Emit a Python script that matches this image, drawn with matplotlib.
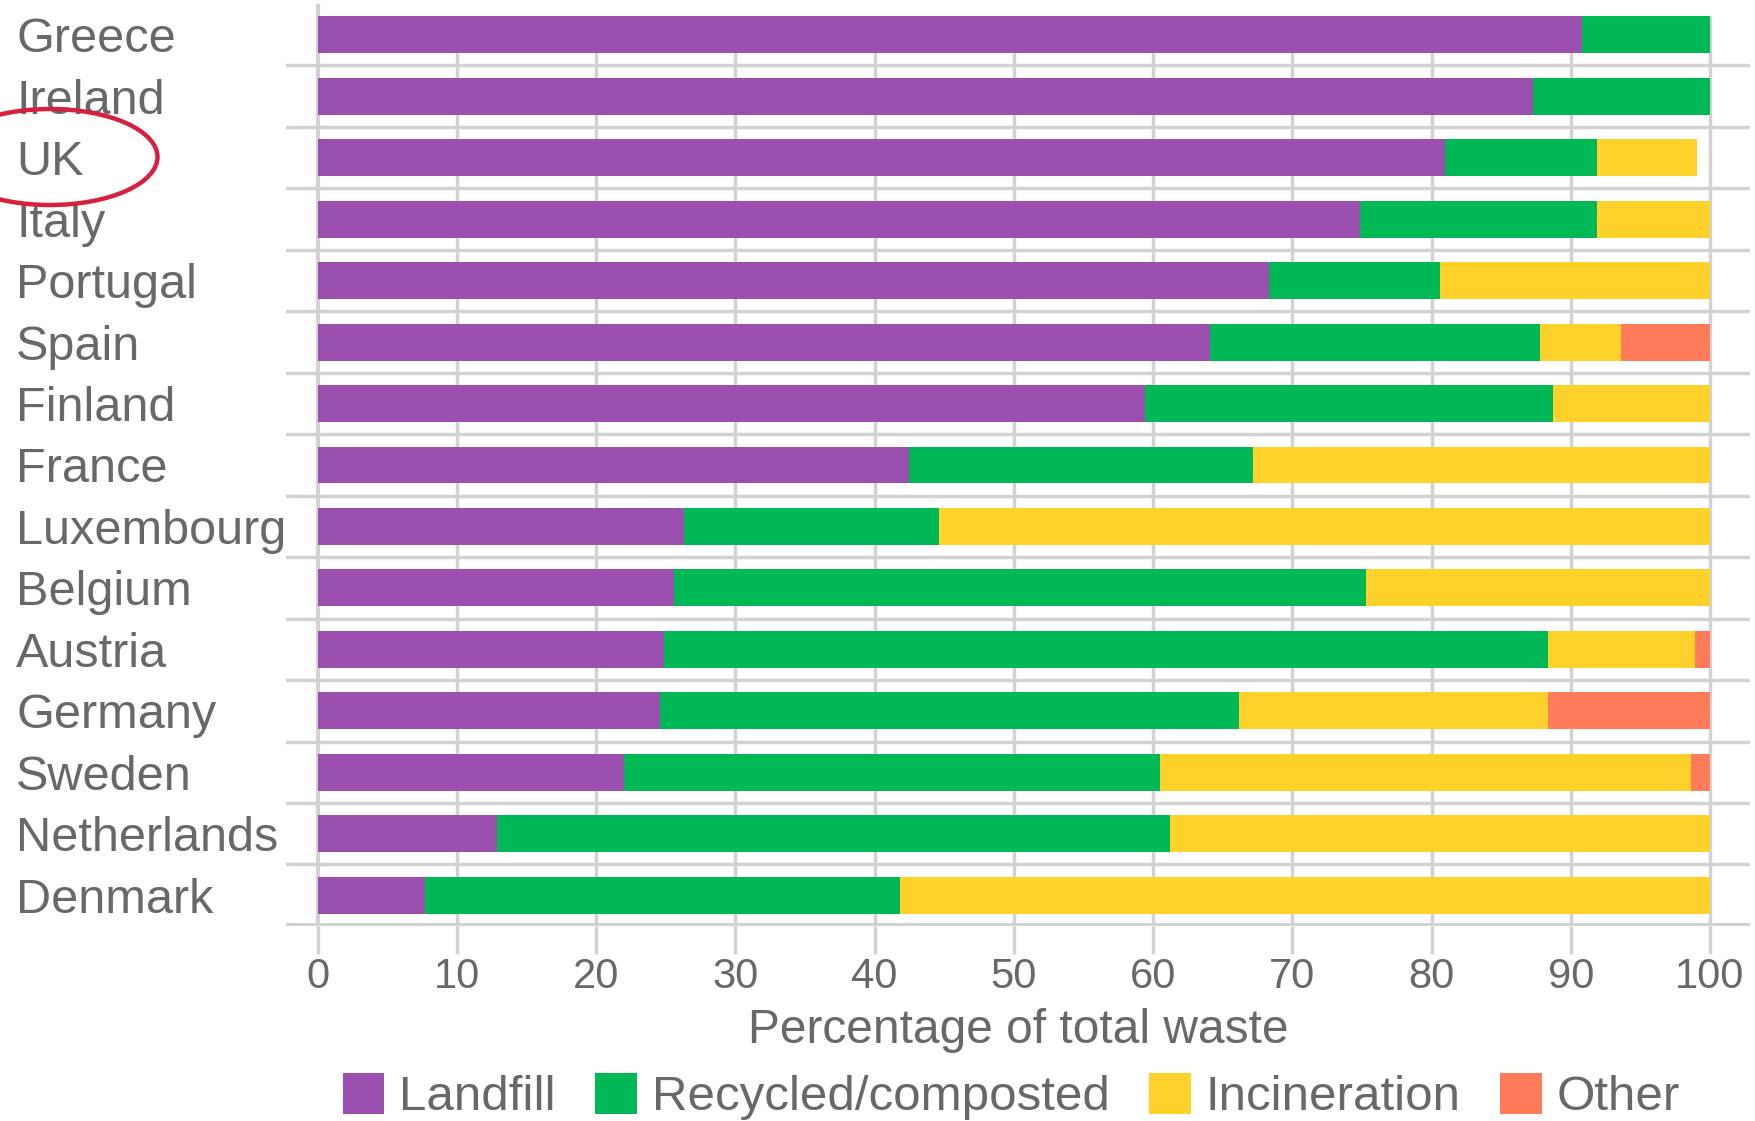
import matplotlib
matplotlib.use("Agg")
import matplotlib.pyplot as plt
from matplotlib.patches import Ellipse
import numpy as np

plt.rcParams['font.family'] = ['Liberation Sans', 'DejaVu Sans']

# dados (percentual do lixo total)
countries = ["Greece", "Ireland", "UK", "Italy", "Portugal", "Spain", "Finland",
             "France", "Luxembourg", "Belgium", "Austria", "Germany", "Sweden",
             "Netherlands", "Denmark"]
landfill = [90.8, 87.3, 81.0, 74.9, 68.3, 64.1, 59.4, 42.5, 26.3, 25.6, 24.9, 24.6, 22.0, 12.9, 7.7]
recycled = [9.2, 12.7, 10.9, 17.0, 12.3, 23.7, 29.3, 24.7, 18.3, 49.7, 63.5, 41.6, 38.5, 48.3, 34.1]
incineration = [0, 0, 7.2, 8.1, 19.4, 5.8, 11.3, 32.8, 55.4, 24.7, 10.5, 22.2, 38.1, 38.8, 58.2]
other = [0, 0, 0, 0, 0, 6.4, 0, 0, 0, 0, 1.1, 11.6, 1.4, 0, 0]

series = [("Landfill", landfill, "#9b4fae"),
          ("Recycled/composted", recycled, "#00b856"),
          ("Incineration", incineration, "#ffd22b"),
          ("Other", other, "#ff7b5a")]
xticks = list(range(0, 101, 10))

grey_txt = "#686868"
grey_line = "#d2d2d2"

fig = plt.figure(figsize=(17.56, 11.21), dpi=100)
ax = fig.add_axes([0.1626, 0.174, 0.8342, 0.8224])

y = np.arange(len(countries))
left = np.zeros(len(countries))
for name, vals, col in series:
    vals = np.array(vals)
    ax.barh(y, vals, left=left, height=0.6, color=col, label=name, zorder=3)
    left = left + vals

ax.set_xlim(-2.3, 102.9)
ax.set_ylim(len(countries) - 0.5, -0.5)

# linhas verticais de grade e separadores horizontais
ax.vlines(xticks[1:], -0.3, len(countries) - 0.5, colors=grey_line, lw=2.5, zorder=1)
ax.vlines([0], -0.5, len(countries) - 0.5, colors=grey_line, lw=3, zorder=1)
for k in range(1, len(countries)):
    ax.axhline(k - 0.5, color=grey_line, lw=2.5, zorder=2)
ax.axhline(len(countries) - 0.5, color=grey_line, lw=5, zorder=2)

for s in ax.spines.values():
    s.set_visible(False)

ax.set_xticks(xticks)
ax.set_xticklabels([str(t) for t in xticks])
ax.tick_params(axis='x', length=20, width=2.5, color=grey_line, pad=2,
               labelsize=30, labelcolor=grey_txt)

ax.set_yticks(y)
ax.set_yticklabels(countries, ha='left')
ax.tick_params(axis='y', length=0, pad=194, labelsize=35, labelcolor=grey_txt)

ax.set_xlabel("Percentage of total waste", fontsize=34.5, color=grey_txt, labelpad=8)

leg = fig.legend(loc='center', bbox_to_anchor=(0.576, 0.022), ncol=4, frameon=False,
                 fontsize=35.5, handlelength=0.85, handleheight=0.9, handletextpad=0.3,
                 columnspacing=0.8, borderaxespad=0)
for t in leg.get_texts():
    t.set_color(grey_txt)

# elipse vermelha em volta do UK
ell = Ellipse((0.50, (1121 - 157) / 100), 2.15, 0.96, fill=False,
              edgecolor="#d7203d", lw=3.2, transform=fig.dpi_scale_trans)
fig.add_artist(ell)

fig.savefig("out.png", dpi=100)
